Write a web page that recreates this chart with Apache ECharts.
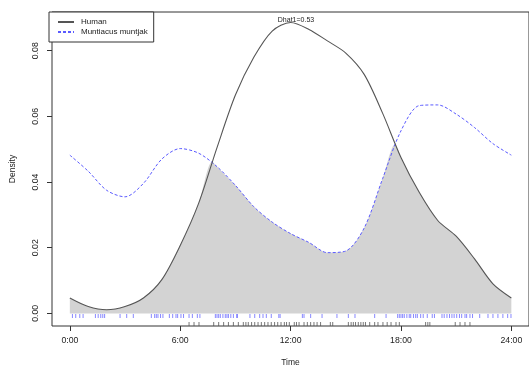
<!DOCTYPE html>
<html>
<head>
<meta charset="utf-8">
<script src="https://cdn.jsdelivr.net/npm/echarts@6/dist/echarts.min.js"></script>
<style>
html,body{margin:0;padding:0;background:#fff;}
#chart{width:529px;height:372px;}
</style>
</head>
<body>
<div id="chart"></div>
<script>
// ---- data ----
const hours = [0,1,2,3,4,5,6,7,8,9,10,11,12,13,14,15,16,17,18,19,20,21,22,23,24];
const human = [0.0047,0.0021,0.0011,0.0021,0.0047,0.0103,0.0207,0.0335,0.0505,0.0665,0.0780,0.0860,0.0886,0.0865,0.0830,0.0793,0.0728,0.0610,0.0475,0.0368,0.0283,0.0235,0.0166,0.0090,0.0047];
const muntjac = [0.0482,0.0433,0.0375,0.0355,0.0396,0.0470,0.0502,0.0488,0.0447,0.0390,0.0325,0.0278,0.0243,0.0216,0.0185,0.0190,0.0260,0.0410,0.0556,0.0633,0.0635,0.0607,0.0566,0.0517,0.0482];
const crossings = [[7.74,0.0462],[17.68,0.0515]];
const humanTimes = [6.48,6.75,7.02,7.82,8.09,8.36,8.62,8.89,9.16,9.43,9.57,9.70,9.88,10.05,10.23,10.41,10.59,10.77,10.95,11.13,11.30,11.48,11.66,11.78,11.93,12.20,12.32,12.46,12.73,12.91,13.09,13.27,13.44,13.63,14.16,14.29,15.14,15.29,15.41,15.53,15.68,15.82,15.95,16.07,16.30,16.57,16.75,17.02,17.25,17.46,17.73,17.91,19.34,19.46,19.57,20.95,21.21,21.48,21.75];
const muntjacTimes = [0.14,0.32,0.54,0.72,1.39,1.54,1.68,1.79,1.89,2.73,3.09,3.45,4.43,4.61,4.70,4.79,4.93,5.06,5.41,5.59,5.77,5.86,6.04,6.18,6.48,6.66,6.93,7.07,7.91,8.00,8.09,8.18,8.32,8.45,8.54,8.62,8.75,8.89,9.07,9.11,9.79,10.05,10.32,10.50,10.68,10.95,11.36,11.43,12.64,12.73,13.09,13.71,14.52,15.14,15.50,16.57,17.19,17.82,17.91,18.00,18.09,18.18,18.32,18.45,18.53,18.68,18.80,18.89,19.07,19.21,19.43,19.70,19.82,20.23,20.35,20.50,20.64,20.77,20.89,21.03,21.18,21.30,21.48,21.57,21.75,21.89,22.28,22.73,23.00,23.27,23.54,23.80,23.98];
const xTicks = [0,6,12,18,24];
const yTicks = [0,0.02,0.04,0.06,0.08];
const seriesNames = ['Human','Muntiacus muntjak'];
const dhatText = 'Dhat1=0.53';

// ---- build ----
const humanData = hours.map((h,i)=>[h,human[i]]);
const muntjacData = hours.map((h,i)=>[h,muntjac[i]]);
const overlapData = hours.map((h,i)=>[h,Math.min(human[i],muntjac[i])]).concat(crossings).sort((a,b)=>a[0]-b[0]);

const FONT = 'Liberation Sans, Arial, sans-serif';
const SM = 0.3;
const chart = echarts.init(document.getElementById('chart'), null, {renderer:'canvas'});
chart.setOption({
  animation:false,
  backgroundColor:'#fff',
  grid:{left:49, top:12, width:485.5, height:316, show:true, borderColor:'#333', borderWidth:1, backgroundColor:'transparent'},
  legend:{
    data:seriesNames, orient:'vertical', left:49, top:12,
    backgroundColor:'#fff', borderColor:'#333', borderWidth:1, borderRadius:0,
    padding:[5,6,5,8], itemWidth:16, itemHeight:10, itemGap:0,
    itemStyle:{opacity:0},
    textStyle:{fontSize:8, lineHeight:10, fontFamily:FONT, color:'#222', padding:[0,0,0,2]}
  },
  xAxis:{
    type:'value', min:-0.97, max:24.96,
    name:'Time', nameLocation:'middle', nameGap:32,
    nameTextStyle:{fontSize:8.5, fontFamily:FONT, color:'#222'},
    axisLine:{show:false, onZero:false}, splitLine:{show:false},
    axisTick:{show:true, inside:false, length:5, customValues:xTicks, lineStyle:{color:'#333'}},
    axisLabel:{customValues:xTicks, margin:10, fontSize:8.7, fontFamily:FONT, color:'#222', formatter:v=>Math.round(v)+':00'}
  },
  yAxis:{
    type:'value', min:-0.00384, max:0.0918,
    name:'Density', nameLocation:'middle', nameGap:35, nameRotate:90,
    nameTextStyle:{fontSize:8.5, fontFamily:FONT, color:'#222'},
    axisLine:{show:false, onZero:false}, splitLine:{show:false},
    axisTick:{show:true, inside:false, length:5, customValues:yTicks, lineStyle:{color:'#333'}},
    axisLabel:{customValues:yTicks, rotate:90, margin:12, fontSize:8.7, fontFamily:FONT, color:'#222', formatter:v=>v.toFixed(2)}
  },
  graphic:[{type:'text', x:296, y:19.7, style:{text:dhatText, fontSize:7, fontFamily:FONT, fill:'#222', align:'center', verticalAlign:'middle'}}],
  series:[
    {name:'overlap', type:'line', data:overlapData, smooth:SM, showSymbol:false, silent:true,
     lineStyle:{width:0, opacity:0}, areaStyle:{color:'#d3d3d3', opacity:1}, z:1},
    {name:'rugM', type:'scatter', data:muntjacTimes.map(t=>[t,0]), symbol:'rect', symbolSize:[1,4], symbolOffset:[0,2.7],
     itemStyle:{color:'#6a6aff'}, silent:true, z:2},
    {name:'rugH', type:'scatter', data:humanTimes.map(t=>[t,0]), symbol:'rect', symbolSize:[1,4], symbolOffset:[0,10.7],
     itemStyle:{color:'#555'}, silent:true, z:2},
    {name:seriesNames[1], type:'line', data:muntjacData, smooth:SM, showSymbol:false, symbol:'none',
     lineStyle:{color:'#5a5aff', width:1, type:[3,2]}, itemStyle:{color:'#5a5aff'}, z:3},
    {name:seriesNames[0], type:'line', data:humanData, smooth:SM, showSymbol:false, symbol:'none',
     lineStyle:{color:'#555', width:1.1}, itemStyle:{color:'#555'}, z:4}
  ]
});
</script>
</body>
</html>
